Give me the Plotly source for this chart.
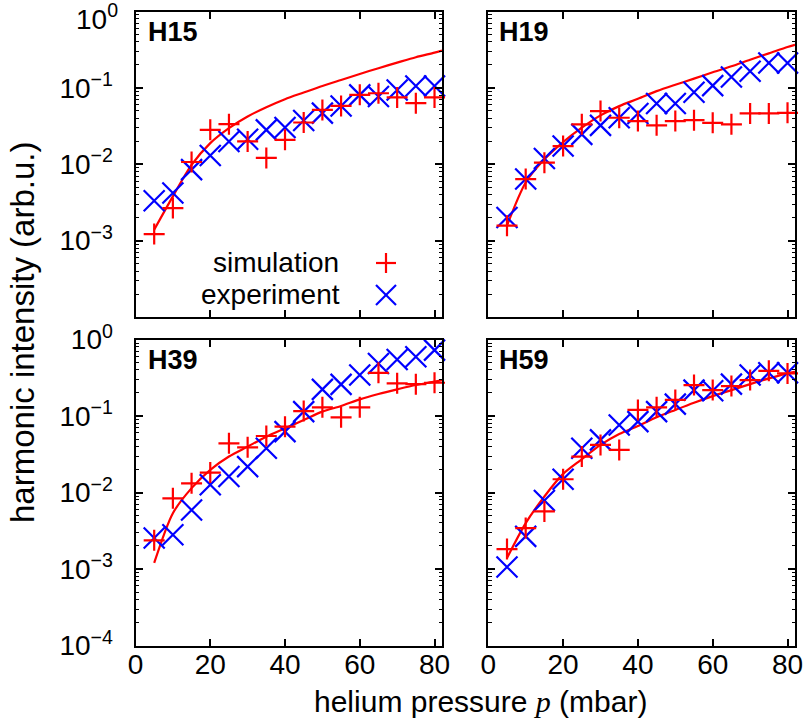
import plotly.graph_objects as go

# ---------------- data ----------------
pressure = [5, 10, 15, 20, 25, 30, 35, 40, 45, 50, 55, 60, 65, 70, 75, 80]
curve_p = [5, 10, 15, 20, 25, 30, 35, 40, 45, 50, 55, 60, 65, 70, 75, 80, 82]

h15_sim = [1.22e-3, 2.67e-3, 0.0107, 0.0282, 0.0335, 0.0199, 0.0121, 0.0209,
           0.0352, 0.0515, 0.058, 0.081, 0.085, 0.075, 0.063, 0.075]
h15_exp = [3.33e-3, 4.2e-3, 8.5e-3, 0.013, 0.0199, 0.0213, 0.0282, 0.0303,
           0.0374, 0.0467, 0.058, 0.081, 0.077, 0.094, 0.106, 0.106]
h15_fit = [1.39e-3, 3.8e-3, 9.8e-3, 0.0189, 0.0297, 0.0422, 0.0558, 0.0711,
           0.0869, 0.106, 0.127, 0.152, 0.181, 0.214, 0.252, 0.289, 0.307]

h19_sim = [1.57e-3, 6.4e-3, 0.0105, 0.0173, 0.0333, 0.0497, 0.0406, 0.0367,
           0.0323, 0.0367, 0.0378, 0.0349, 0.0333, 0.0463, 0.0463, 0.0472]
h19_exp = [2.01e-3, 6.4e-3, 0.0119, 0.0173, 0.0246, 0.0323, 0.0406, 0.0463,
           0.0625, 0.0625, 0.0878, 0.107, 0.139, 0.165, 0.212, 0.212]
h19_fit = [1.57e-3, 5.77e-3, 0.0116, 0.0195, 0.0301, 0.0436, 0.0577, 0.0719,
           0.0906, 0.110, 0.132, 0.160, 0.192, 0.234, 0.283, 0.343, 0.367]

h39_sim = [2.37e-3, 8.4e-3, 0.0132, 0.0182, 0.044, 0.039, 0.0548, 0.0726,
           0.116, 0.130, 0.096, 0.130, 0.367, 0.267, 0.261, 0.272]
h39_exp = [2.54e-3, 2.8e-3, 5.9e-3, 0.0126, 0.0162, 0.0218, 0.0379, 0.0625,
           0.114, 0.223, 0.259, 0.343, 0.486, 0.548, 0.594, 0.726]
h39_fit = [1.2e-3, 5.37e-3, 0.0114, 0.0198, 0.0295, 0.0398, 0.0537, 0.069,
           0.0887, 0.114, 0.135, 0.165, 0.194, 0.223, 0.254, 0.281, 0.295]

h59_sim = [1.82e-3, 3.43e-3, 5.65e-3, 0.0149, 0.0295, 0.0419, 0.036, 0.12,
           0.13, 0.162, 0.254, 0.218, 0.246, 0.295, 0.39, 0.36]
h59_exp = [1.06e-3, 2.67e-3, 7.87e-3, 0.0149, 0.0379, 0.0487, 0.0763, 0.0844,
           0.114, 0.143, 0.218, 0.214, 0.261, 0.343, 0.367, 0.367]
h59_fit = [1.39e-3, 3.98e-3, 8.87e-3, 0.0175, 0.0272, 0.0419, 0.0582, 0.0741,
           0.0962, 0.12, 0.149, 0.182, 0.218, 0.261, 0.31, 0.361, 0.378]

panel_names = ["H15", "H19", "H39", "H59"]
sims = [h15_sim, h19_sim, h39_sim, h59_sim]
exps = [h15_exp, h19_exp, h39_exp, h59_exp]
fits = [h15_fit, h19_fit, h39_fit, h59_fit]

y_tickvals = [1e0, 1e-1, 1e-2, 1e-3, 1e-4]
y_ticktext = ["10<sup>0</sup>", "10<sup>−1</sup>", "10<sup>−2</sup>",
              "10<sup>−3</sup>", "10<sup>−4</sup>"]
x_tickvals = [0, 20, 40, 60, 80]
x_ticktext = ["0", "20", "40", "60", "80"]

# ---------------- layout geometry ----------------
W, H = 810, 722
FONT = "Liberation Sans, Arial, sans-serif"
RED = "#ff0000"
BLUE = "#0000ff"

xdoms = [[135.5 / W, 442 / W], [488.3 / W, 795 / W]]
ydoms = [[(H - 317) / H, (H - 11.5) / H], [(H - 645.5) / H, (H - 339.5) / H]]

minor_vals = [m * 10 ** e for e in range(-4, 0) for m in range(2, 10)]

fig = go.Figure()
layout = dict(
    width=W, height=H,
    margin=dict(l=0, r=0, t=0, b=0, autoexpand=False),
    paper_bgcolor="white", plot_bgcolor="white",
    showlegend=False,
    font=dict(family=FONT, size=28, color="black"),
)

for i in range(4):
    row, col = divmod(i, 2)
    n = i + 1
    xa = "x" if n == 1 else f"x{n}"
    ya = "y" if n == 1 else f"y{n}"
    fig.add_trace(go.Scatter(
        x=curve_p, y=fits[i], xaxis=xa, yaxis=ya, mode="lines",
        line=dict(color=RED, width=2.2, shape="spline", smoothing=0.8),
        hoverinfo="skip", cliponaxis=True))
    fig.add_trace(go.Scatter(
        x=pressure, y=exps[i], xaxis=xa, yaxis=ya, mode="markers",
        cliponaxis=False,
        marker=dict(symbol="x-thin", size=21, color=BLUE,
                    line=dict(color=BLUE, width=2.2))))
    fig.add_trace(go.Scatter(
        x=pressure, y=sims[i], xaxis=xa, yaxis=ya, mode="markers",
        cliponaxis=False,
        marker=dict(symbol="cross-thin", size=15, color=RED,
                    line=dict(color=RED, width=2.2))))

    # top row: the 10^0 label is placed separately (it would be cut at the page top)
    if row == 1:
        tv, tt = y_tickvals, y_ticktext
    else:
        tv, tt = y_tickvals[:4], [""] + y_ticktext[1:4]

    key_x = "xaxis" if n == 1 else f"xaxis{n}"
    key_y = "yaxis" if n == 1 else f"yaxis{n}"
    layout[key_x] = dict(
        domain=xdoms[col], anchor=ya, range=[0, 82], automargin=False,
        showline=True, linecolor="black", linewidth=2, mirror="ticks",
        ticks="inside", ticklen=7, tickwidth=1.5, tickcolor="black",
        tickmode="array", tickvals=x_tickvals, ticktext=x_ticktext,
        showticklabels=(row == 1), showgrid=False, zeroline=False,
        ticklabelstandoff=-7, ticklabeloverflow="allow",
        tickfont=dict(family=FONT, size=28, color="black"),
    )
    layout[key_y] = dict(
        domain=ydoms[row], anchor=xa, type="log", range=[-4, 0], automargin=False,
        showline=True, linecolor="black", linewidth=2, mirror="ticks",
        ticks="inside", ticklen=7, tickwidth=1.5, tickcolor="black",
        tickmode="array", tickvals=tv, ticktext=tt,
        showticklabels=(col == 0), showgrid=False, zeroline=False,
        ticklabelstandoff=15, ticklabeloverflow="allow",
        tickfont=dict(family=FONT, size=28, color="black"),
        minor=dict(ticks="inside", ticklen=3.5, tickwidth=1, tickcolor="black",
                   tickmode="array", tickvals=minor_vals, showgrid=False),
    )

annotations = []
# top-left 10^0 label, nudged just below the page edge
annotations.append(dict(
    text=y_ticktext[0], x=120 / W, y=(H - 17) / H, xref="paper", yref="paper",
    xanchor="right", yanchor="middle", showarrow=False,
    font=dict(family=FONT, size=28, color="black")))

label_pos = [(146, 32), (497, 32), (146, 360), (497, 360)]
for name, (px, py) in zip(panel_names, label_pos):
    annotations.append(dict(
        text=f"<b>{name}</b>", x=px / W, y=(H - py) / H, xref="paper", yref="paper",
        xanchor="left", yanchor="middle", showarrow=False,
        font=dict(family=FONT, size=27, color="black")))

# legend texts
annotations.append(dict(text="simulation", x=341 / W, y=(H - 262) / H,
                        xref="paper", yref="paper", xanchor="right", yanchor="middle",
                        showarrow=False, font=dict(family=FONT, size=28, color="black")))
annotations.append(dict(text="experiment", x=342 / W, y=(H - 294) / H,
                        xref="paper", yref="paper", xanchor="right", yanchor="middle",
                        showarrow=False, font=dict(family=FONT, size=28, color="black")))
# axis titles
annotations.append(dict(text="harmonic intensity (arb.u.)", x=22 / W, y=(H - 333) / H,
                        xref="paper", yref="paper", xanchor="center", yanchor="middle",
                        textangle=-90, showarrow=False,
                        font=dict(family=FONT, size=33, color="black")))
annotations.append(dict(
    text="helium pressure <span style=\"font-family:'Liberation Serif', 'Times New Roman', serif\"><i>p</i></span> (mbar)",
    x=480 / W, y=(H - 701) / H, xref="paper", yref="paper",
    xanchor="center", yanchor="middle", showarrow=False,
    font=dict(family=FONT, size=30, color="black")))

layout["annotations"] = annotations

# legend keys drawn as shapes (paper coordinates)
def px2paper(x, y):
    return x / W, (H - y) / H

shapes = []
cx, cy, r = 386, 263, 10
x0, y0 = px2paper(cx - r, cy); x1, y1 = px2paper(cx + r, cy)
shapes.append(dict(type="line", xref="paper", yref="paper", x0=x0, y0=y0, x1=x1, y1=y1,
                   line=dict(color=RED, width=2.2)))
x0, y0 = px2paper(cx, cy - r); x1, y1 = px2paper(cx, cy + r)
shapes.append(dict(type="line", xref="paper", yref="paper", x0=x0, y0=y0, x1=x1, y1=y1,
                   line=dict(color=RED, width=2.2)))
cx, cy = 386, 295
x0, y0 = px2paper(cx - r, cy - r); x1, y1 = px2paper(cx + r, cy + r)
shapes.append(dict(type="line", xref="paper", yref="paper", x0=x0, y0=y0, x1=x1, y1=y1,
                   line=dict(color=BLUE, width=2.2)))
x0, y0 = px2paper(cx - r, cy + r); x1, y1 = px2paper(cx + r, cy - r)
shapes.append(dict(type="line", xref="paper", yref="paper", x0=x0, y0=y0, x1=x1, y1=y1,
                   line=dict(color=BLUE, width=2.2)))
layout["shapes"] = shapes

fig.update_layout(**layout)
fig.write_html(
    "out.html",
    config={"displayModeBar": False},
    post_script="document.body.style.margin='0px';document.body.style.overflow='hidden';",
)
